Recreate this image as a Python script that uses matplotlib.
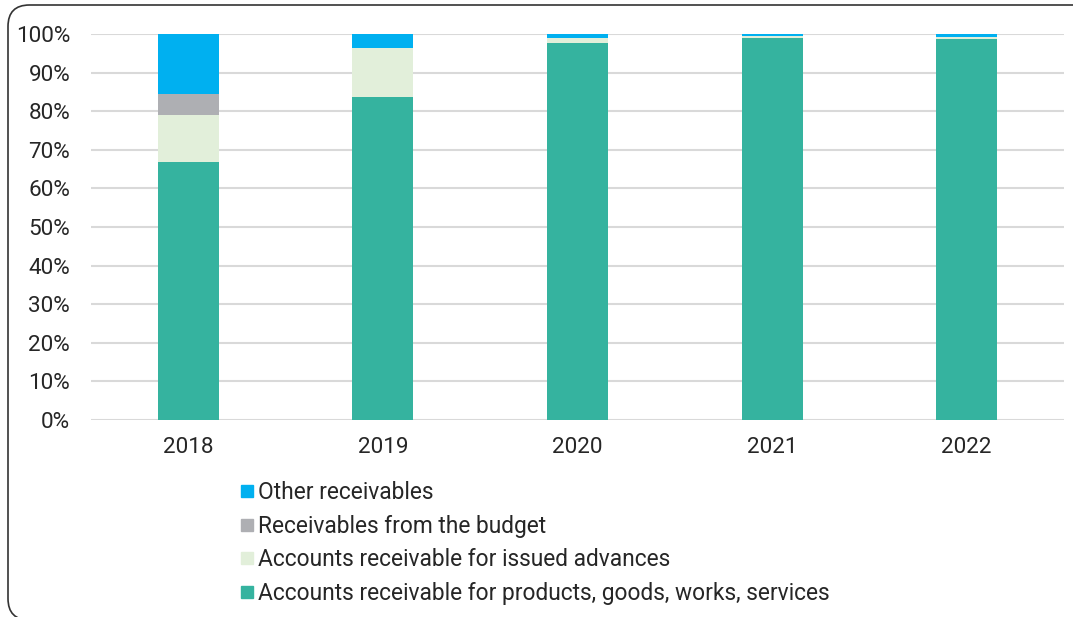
import matplotlib.pyplot as plt
import numpy as np
from matplotlib.patches import FancyBboxPatch
from matplotlib.lines import Line2D

plt.rcParams['font.family'] = ['Roboto', 'DejaVu Sans']

# receivables structure, share of total (%)
years = ["2018", "2019", "2020", "2021", "2022"]
products = [66.9, 83.7, 97.7, 99.0, 98.8]
advances = [12.1, 12.7, 1.2, 0.6, 0.5]
budget = [5.5, 0.0, 0.0, 0.0, 0.0]
other = [15.5, 3.6, 1.1, 0.4, 0.7]

labels = ["Accounts receivable for products, goods, works, services",
          "Accounts receivable for issued advances",
          "Receivables from the budget",
          "Other receivables"]
colors = ["#35B39F", "#E2EFDA", "#AEAFB3", "#00B0F0"]
text_color = "#262626"

fig = plt.figure(figsize=(10.73, 6.17), dpi=100)
ax = fig.add_axes([91/1073, 1-420/617, 973/1073, 386/617])

x = np.arange(len(years))
bottom = np.zeros(len(years))
for vals, col in zip([products, advances, budget, other], colors):
    ax.bar(x, vals, width=0.313, bottom=bottom, color=col, zorder=3)
    bottom += np.array(vals)

ax.set_xlim(-0.5, len(years) - 0.5)
ax.set_ylim(0, 100)
ax.set_yticks(np.arange(0, 101, 10))
ax.set_yticklabels([f"{v}%" for v in range(0, 101, 10)])
ax.set_xticks(x)
ax.set_xticklabels(years)
ax.tick_params(length=0, labelsize=16.2, colors=text_color)
ax.tick_params(axis="y", pad=15)
ax.tick_params(axis="x", pad=12)
ax.grid(axis="y", color="#D9D9D9", linewidth=1.5, zorder=0)
for s in ax.spines.values():
    s.set_visible(False)

handles = [Line2D([], [], marker="s", linestyle="none", markersize=9,
                  color=c) for c in colors[::-1]]
fig.legend(handles, labels[::-1], loc="upper left",
           bbox_to_anchor=(232/1073, 1-472/617), frameon=False,
           fontsize=16.4, handlelength=0.55, handletextpad=0.2,
           labelspacing=0.46, labelcolor=text_color, borderaxespad=0)

# rounded frame around the figure
frame = FancyBboxPatch((8/1073, -3/617), 1.1, 1 - 5/617 + 3/617,
                       boxstyle="round,pad=0,rounding_size=0.02",
                       transform=fig.transFigure, fill=False,
                       edgecolor="#333333", linewidth=1.2,
                       mutation_aspect=1073/617)
fig.patches.append(frame)

fig.savefig("out.png", dpi=100)
